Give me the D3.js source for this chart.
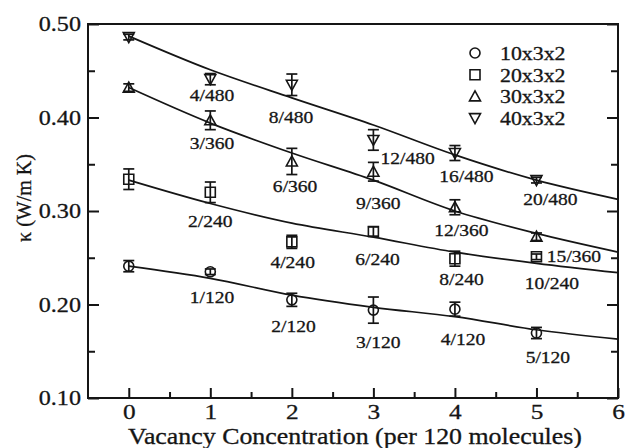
<!DOCTYPE html>
<html>
<head>
<meta charset="utf-8">
<script src="https://cdn.jsdelivr.net/npm/d3@7"></script>
<style>
  html, body { margin: 0; padding: 0; background: #fff; }
  svg { display: block; }
  text { font-family: "Liberation Serif", "Times New Roman", serif; fill: #151515; stroke: #151515; stroke-width: 0.3px; }
</style>
</head>
<body>
<div id="chart"></div>
<script>
// vacancy concentration (per 120 molecules)
const xValues = [0, 1, 2, 3, 4, 5];
const fitX = [0, 1, 2, 3, 4, 5, 6];

const seriesNames = ['10x3x2', '20x3x2', '30x3x2', '40x3x2'];
const seriesShapes = ['circle', 'square', 'up', 'down'];

// kappa (W/m K) and error bars
const kappa10 = [0.241, 0.235, 0.205, 0.194, 0.195, 0.1695];
const err10 = [0.006, 0.003, 0.007, 0.014, 0.0075, 0.006];
const kappa20 = [0.334, 0.320, 0.267, 0.278, 0.249, 0.251];
const err20 = [0.011, 0.011, 0.007, 0.005, 0.008, 0.003];
const kappa30 = [0.432, 0.397, 0.353, 0.342, 0.304, 0.2725];
const err30 = [0.004, 0.010, 0.014, 0.010, 0.008, 0.004];
const kappa40 = [0.486, 0.441, 0.435, 0.376, 0.362, 0.333];
const err40 = [0.003, 0.006, 0.0115, 0.011, 0.008, 0.003];

const fit10 = [0.241, 0.228, 0.210, 0.197, 0.187, 0.173, 0.163];
const fit20 = [0.333, 0.308, 0.287, 0.272, 0.256, 0.244, 0.234];
const fit30 = [0.432, 0.394, 0.362, 0.333, 0.300, 0.276, 0.256];
const fit40 = [0.487, 0.451, 0.421, 0.392, 0.360, 0.333, 0.3125];

// point annotations: text, centre x, baseline y (data units)
const labels10 = [['1/120', 1.02, 0.2016], ['2/120', 2.02, 0.1706], ['3/120', 3.06, 0.1535], ['4/120', 4.10, 0.1567], ['5/120', 5.14, 0.1374]];
const labels20 = [['2/240', 1.00, 0.283], ['4/240', 2.01, 0.2387], ['6/240', 3.05, 0.2422], ['8/240', 4.08, 0.2209], ['10/240', 5.19, 0.2163]];
const labels30 = [['3/360', 1.02, 0.366], ['6/360', 2.04, 0.3207], ['9/360', 3.06, 0.3018], ['12/360', 4.08, 0.2733], ['15/360', 5.46, 0.2451]];
const labels40 = [['4/480', 1.02, 0.418], ['8/480', 1.99, 0.3938], ['12/480', 3.42, 0.350], ['16/480', 4.14, 0.3313], ['20/480', 5.17, 0.3064]];

const yTicks = [0.1, 0.2, 0.3, 0.4, 0.5];
const yMinor = [0.15, 0.25, 0.35, 0.45];
const xTicks = [0, 1, 2, 3, 4, 5, 6];
const xMinor = [0.5, 1.5, 2.5, 3.5, 4.5, 5.5];

const width = 625, height = 448;
const margin = { top: 24, right: 7, bottom: 50, left: 88 };
const stretchX = 1.15; // glyphs in the reference are a bit wide
const ink = '#151515';

const svg = d3.select('#chart').append('svg')
    .attr('width', width)
    .attr('height', height);

const x = d3.scaleLinear().domain([-0.5, 6]).range([margin.left, width - margin.right]);
const y = d3.scaleLinear().domain([0.1, 0.5]).range([height - margin.bottom, margin.top]);

// place a text at (px,py) and stretch it horizontally
function stretched(sel, px, py) {
    sel.attr('transform', `translate(${px},${py}) scale(${stretchX},1)`);
    return sel;
}

// axes (ticks point inward)
const axisG = svg.append('g').attr('class', 'axes');

axisG.append('g')
    .attr('transform', `translate(${margin.left},0)`)
    .call(d3.axisLeft(y).tickValues(yTicks).tickSize(-11).tickPadding(7).tickFormat(d3.format('.2f')))
    .call(g => g.selectAll('text').each(function() {
        const t = d3.select(this);
        const xx = +t.attr('x');
        t.attr('x', 0).attr('font-size', 21)
            .attr('transform', `translate(${xx},0) scale(${stretchX},1)`);
    }));
axisG.append('g')
    .attr('transform', `translate(${margin.left},0)`)
    .call(d3.axisLeft(y).tickValues(yMinor).tickSize(-7).tickFormat(''));
axisG.append('g')
    .attr('transform', `translate(${width - margin.right},0)`)
    .call(d3.axisRight(y).tickValues(yTicks).tickSize(-11).tickFormat(''));
axisG.append('g')
    .attr('transform', `translate(${width - margin.right},0)`)
    .call(d3.axisRight(y).tickValues(yMinor).tickSize(-7).tickFormat(''));

axisG.append('g')
    .attr('transform', `translate(0,${height - margin.bottom})`)
    .call(d3.axisBottom(x).tickValues(xTicks).tickSize(-10).tickPadding(5).tickFormat(d3.format('d')))
    .call(g => g.selectAll('text').each(function() {
        const t = d3.select(this);
        const yy = +t.attr('y');
        t.attr('y', 0).attr('font-size', 22)
            .attr('transform', `translate(0,${yy}) scale(${stretchX},1)`);
    }));
axisG.append('g')
    .attr('transform', `translate(0,${height - margin.bottom})`)
    .call(d3.axisBottom(x).tickValues(xMinor).tickSize(-6).tickFormat(''));

axisG.selectAll('.domain').remove();
axisG.selectAll('.tick line').attr('stroke', ink).attr('stroke-width', 2);

// frame
svg.append('rect')
    .attr('x', margin.left)
    .attr('y', margin.top)
    .attr('width', width - margin.left - margin.right)
    .attr('height', height - margin.top - margin.bottom)
    .attr('fill', 'none')
    .attr('stroke', ink)
    .attr('stroke-width', 2);

// axis titles
stretched(svg.append('text'), (x(-0.5) + x(6)) / 2 + 2, 444)
    .attr('text-anchor', 'middle')
    .attr('font-size', 22.5)
    .text('Vacancy Concentration (per 120 molecules)');

svg.append('text')
    .attr('transform', 'translate(31,198) rotate(-90)')
    .attr('text-anchor', 'middle')
    .attr('font-size', 20)
    .text('κ (W/m K)');

// marker shapes
function markerPath(shape) {
    if (shape === 'circle') return 'M5,0A5,5 0 1,1 -5,0A5,5 0 1,1 5,0Z';
    if (shape === 'square') return 'M-5,-5H5V5H-5Z';
    if (shape === 'up') return 'M0,-5.5L5.5,4.5L-5.5,4.5Z';
    return 'M0,5.5L5.5,-4.5L-5.5,-4.5Z';
}

const series = [
    { name: seriesNames[0], shape: seriesShapes[0], vals: kappa10, errs: err10, fit: fit10, labels: labels10 },
    { name: seriesNames[1], shape: seriesShapes[1], vals: kappa20, errs: err20, fit: fit20, labels: labels20 },
    { name: seriesNames[2], shape: seriesShapes[2], vals: kappa30, errs: err30, fit: fit30, labels: labels30 },
    { name: seriesNames[3], shape: seriesShapes[3], vals: kappa40, errs: err40, fit: fit40, labels: labels40 }
];

const line = d3.line()
    .x((d, i) => x(fitX[i]))
    .y(d => y(d))
    .curve(d3.curveCatmullRom.alpha(0.5));

const plot = svg.append('g').attr('class', 'plot');

series.forEach(s => {
    // fitted curve
    plot.append('path')
        .datum(s.fit)
        .attr('d', line)
        .attr('fill', 'none')
        .attr('stroke', ink)
        .attr('stroke-width', 1.7);

    const pts = xValues.map((xv, i) => ({ x: xv, v: s.vals[i], e: s.errs[i] }));
    const g = plot.append('g');

    // error bars
    const eb = g.selectAll('.eb').data(pts).enter().append('g');
    eb.append('line')
        .attr('x1', d => x(d.x)).attr('x2', d => x(d.x))
        .attr('y1', d => y(d.v + d.e)).attr('y2', d => y(d.v - d.e));
    eb.append('line')
        .attr('x1', d => x(d.x) - 5.5).attr('x2', d => x(d.x) + 5.5)
        .attr('y1', d => y(d.v + d.e)).attr('y2', d => y(d.v + d.e));
    eb.append('line')
        .attr('x1', d => x(d.x) - 5.5).attr('x2', d => x(d.x) + 5.5)
        .attr('y1', d => y(d.v - d.e)).attr('y2', d => y(d.v - d.e));
    eb.selectAll('line').attr('stroke', ink).attr('stroke-width', 1.7);

    // markers
    g.selectAll('.mk').data(pts).enter().append('path')
        .attr('d', markerPath(s.shape))
        .attr('transform', d => `translate(${x(d.x)},${y(d.v)})`)
        .attr('fill', 'none')
        .attr('stroke', ink)
        .attr('stroke-width', 1.6);

    // annotations
    s.labels.forEach(l => {
        stretched(plot.append('text'), x(l[1]), y(l[2]))
            .attr('text-anchor', 'middle')
            .attr('font-size', 17)
            .text(l[0]);
    });
});

// legend
const legend = svg.append('g').attr('class', 'legend');
series.forEach((s, i) => {
    const cy = 53 + i * 21.7;
    legend.append('path')
        .attr('d', markerPath(s.shape))
        .attr('transform', `translate(475,${cy})`)
        .attr('fill', 'none')
        .attr('stroke', ink)
        .attr('stroke-width', 1.6);
    stretched(legend.append('text'), 500, cy + 7)
        .attr('font-size', 19)
        .text(s.name);
});
</script>
</body>
</html>
